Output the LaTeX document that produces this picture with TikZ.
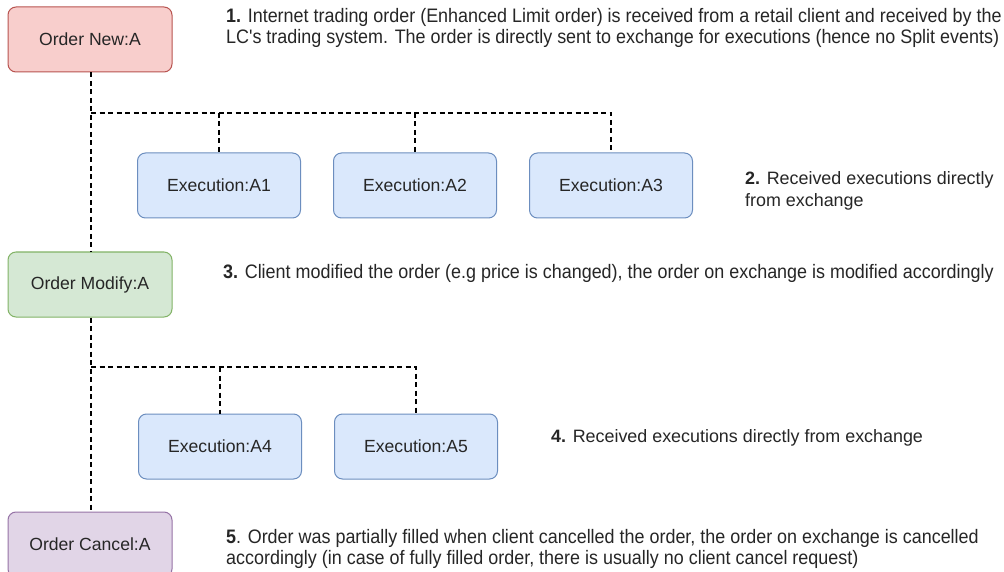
\documentclass[tikz,border=0pt]{standalone}
\usepackage{fontspec}
\setmainfont{Liberation Sans}
\newfontfamily\narrowfont{Liberation Sans}[FakeStretch=0.92]
\usetikzlibrary{calc}
\definecolor{redfill}{HTML}{F8CECC}\definecolor{redline}{HTML}{B85450}
\definecolor{greenfill}{HTML}{D5E8D4}\definecolor{greenline}{HTML}{82B366}
\definecolor{purplefill}{HTML}{E1D5E7}\definecolor{purpleline}{HTML}{9673A6}
\definecolor{bluefill}{HTML}{DAE8FC}\definecolor{blueline}{HTML}{6C8EBF}
\definecolor{ink}{HTML}{262626}
\tikzset{
  evbox/.style={draw, line width=1pt, rounded corners=8pt, minimum width=163pt,
    minimum height=65pt, inner sep=0pt, text=ink, font=\fontsize{17.6}{20}\selectfont},
  orderbox/.style={evbox, minimum width=164pt},
  newbox/.style={orderbox, fill=redfill, draw=redline},
  modbox/.style={orderbox, fill=greenfill, draw=greenline},
  cancelbox/.style={orderbox, fill=purplefill, draw=purpleline},
  execbox/.style={evbox, fill=bluefill, draw=blueline},
  conn/.style={draw=black, line width=2pt, dash pattern=on 5pt off 3.5pt},
  note/.style={anchor=west, inner sep=0pt, text=ink, align=left},
  widenote/.style={note, font=\fontsize{17.9}{21.5}\selectfont},
  narrownote/.style={note, font=\narrowfont\fontsize{19.5}{21}\selectfont},
}
\begin{document}
\begin{tikzpicture}[x=1pt, y=-1pt]
\clip (0,0) rectangle (1004,572);
\fill[white] (0,0) rectangle (1004,572);

% order events down the left side
\node[newbox]    (new)    at (90,39.5)  {Order New:A};
\node[modbox]    (modify) at (90,284.5) {Order Modify:A};
\node[cancelbox] (cancel) at (90,544.5) {Order Cancel:A};

% executions received from the exchange
\node[execbox] (e1) at (219,185.5) {Execution:A1};
\node[execbox] (e2) at (415,185.5) {Execution:A2};
\node[execbox] (e3) at (611,185.5) {Execution:A3};
\node[execbox] (e4) at (220,446.5) {Execution:A4};
\node[execbox] (e5) at (416,446.5) {Execution:A5};

% dashed connectors
\coordinate (bus1) at (91,113);
\coordinate (bus2) at (91,367);
\draw[conn] ([xshift=1pt]new.south) -- ([xshift=1pt]modify.north);
\draw[conn] ([xshift=1pt]modify.south) -- ([xshift=1pt]cancel.north);
\draw[conn] (bus1) -| (e3.north);
\draw[conn] (e1.north |- bus1) -- (e1.north);
\draw[conn] (e2.north |- bus1) -- (e2.north);
\draw[conn] (bus2) -| (e5.north);
\draw[conn] (e4.north |- bus2) -- (e4.north);

% explanatory notes
\node[narrownote] (n1) at (226,27.5) {\textbf{1.} Internet trading order (Enhanced Limit order) is received from a retail client and received by the\\LC's trading system. The order is directly sent to exchange for executions (hence no Split events)};
\node[widenote] (n2) at (745,191) {\textbf{2.} Received executions directly\\from exchange};
\node[narrownote] (n3) at (223,273.5) {\textbf{3.} Client modified the order (e.g price is changed), the order on exchange is modified accordingly};
\node[widenote] (n4) at (551,438) {\textbf{4.} Received executions directly from exchange};
\node[narrownote] (n5) at (226,549) {\textbf{5}. Order was partially filled when client cancelled the order, the order on exchange is cancelled\\accordingly (in case of fully filled order, there is usually no client cancel request)};
\end{tikzpicture}
\end{document}
